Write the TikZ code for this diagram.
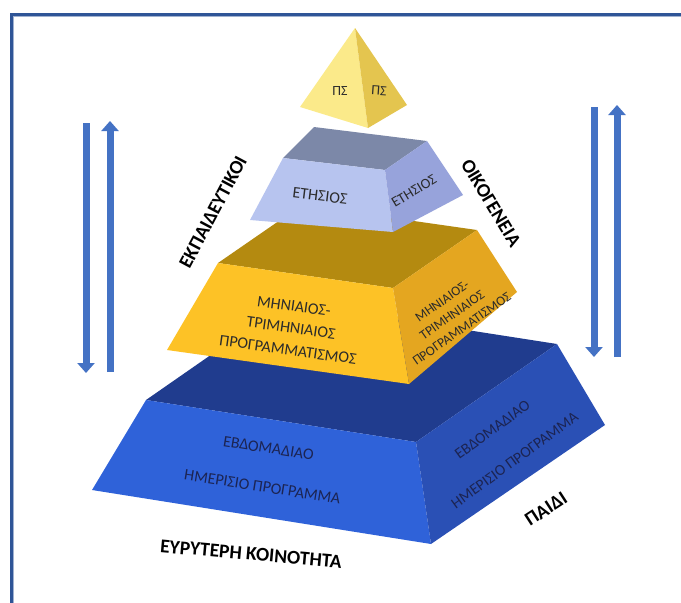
\documentclass[tikz,border=0pt]{standalone}
\usepackage{fontspec}
\setmainfont{Carlito}
\usetikzlibrary{arrows.meta}
\definecolor{framebl}{HTML}{2F5597}
\definecolor{arrowbl}{HTML}{4472C4}
\definecolor{pyrfront}{HTML}{FBEA8A}
\definecolor{pyrside}{HTML}{E4C54F}
\definecolor{yeartop}{HTML}{7C88A8}
\definecolor{yearfront}{HTML}{B7C4EF}
\definecolor{yearside}{HTML}{97A3DB}
\definecolor{monthtop}{HTML}{B48A10}
\definecolor{monthfront}{HTML}{FDC226}
\definecolor{monthside}{HTML}{E4A620}
\definecolor{weektop}{HTML}{203C8E}
\definecolor{weekfront}{HTML}{2F62D9}
\definecolor{weekside}{HTML}{2A50B5}
\definecolor{txtgray}{HTML}{2B2B2B}
\definecolor{txtnavy}{HTML}{1C2452}

\begin{document}
\begin{tikzpicture}[x=1pt, y=-1pt,
  lbl/.style={font=\fontsize{19.5}{19.5}\selectfont\bfseries, inner sep=0pt},
  facetxt/.style={text=txtgray, align=center, inner sep=0pt},
  flow/.style={line width=7pt, draw=arrowbl, -{Triangle[width=17pt,length=10pt]}}]
  \useasboundingbox (0,0) rectangle (681,603);
  % frame, top and left only
  \draw[framebl, line width=3pt] (11,603) -- (11,14) -- (681,14);
  \draw[framebl!45, line width=0.8pt] (13.5,603) -- (13.5,16.5) -- (681,16.5);

  % weekly tier (bottom)
  \fill[weektop]   (146,400) -- (416,442) -- (557,344) -- (287,302) -- cycle;
  \fill[weekfront] (146,400) -- (416,442) -- (431,544) -- (92,490) -- cycle;
  \fill[weekside]  (416,442) -- (557,344) -- (605,425) -- (431,544) -- cycle;
  \node[facetxt, text=txtnavy, rotate=-9, font=\fontsize{16}{39}\selectfont] (weekA) at (265.5,467.5)
    {ΕΒΔΟΜΑΔΙΑΟ\\ΗΜΕΡΙΣΙΟ ΠΡΟΓΡΑΜΜΑ};
  \node[facetxt, text=txtnavy, rotate=36, font=\fontsize{15.5}{38}\selectfont] (weekB) at (503.5,445)
    {ΕΒΔΟΜΑΔΙΑΟ\\ΗΜΕΡΙΣΙΟ ΠΡΟΓΡΑΜΜΑ};

  % monthly tier
  \fill[monthtop]   (218,263) -- (393,288) -- (477,230) -- (302,205) -- cycle;
  \fill[monthfront] (218,263) -- (393,288) -- (409,384) -- (167,350) -- cycle;
  \fill[monthside]  (393,288) -- (477,230) -- (517,292) -- (409,384) -- cycle;
  \node[facetxt, rotate=-8, font=\fontsize{16}{22}\selectfont] (monthA) at (291,328)
    {ΜΗΝΙΑΙΟΣ-\\ΤΡΙΜΗΝΙΑΙΟΣ\\ΠΡΟΓΡΑΜΜΑΤΙΣΜΟΣ};
  \node[facetxt, rotate=35, font=\fontsize{13.5}{17}\selectfont] (monthB) at (452,315)
    {ΜΗΝΙΑΙΟΣ-\\ΤΡΙΜΗΝΙΑΙΟΣ\\ΠΡΟΓΡΑΜΜΑΤΙΣΜΟΣ};

  % yearly tier
  \fill[yeartop]   (283,158) -- (385,170) -- (427,141) -- (314,127) -- cycle;
  \fill[yearfront] (283,158) -- (385,170) -- (393,232) -- (250,220) -- cycle;
  \fill[yearside]  (385,170) -- (427,141) -- (463,195) -- (393,232) -- cycle;
  \node[facetxt, rotate=-7, font=\fontsize{16}{16}\selectfont] (yearA) at (320,196) {ΕΤΗΣΙΟΣ};
  \node[facetxt, rotate=31, font=\fontsize{14.5}{14.5}\selectfont] (yearB) at (414,191) {ΕΤΗΣΙΟΣ};

  % top pyramid
  \fill[pyrfront] (355,28) -- (300,107) -- (368,128) -- cycle;
  \fill[pyrside]  (355,28) -- (368,128) -- (407,105) -- cycle;
  \node[facetxt, font=\fontsize{14}{14}\selectfont] (topA) at (340,91) {ΠΣ};
  \node[facetxt, rotate=-4, font=\fontsize{14}{14}\selectfont] (topB) at (379,91) {ΠΣ};

  % side labels
  \node[lbl, rotate=62] (teach) at (213,212) {ΕΚΠΑΙΔΕΥΤΙΚΟΙ};
  \node[lbl, rotate=-59] (family) at (491,203) {ΟΙΚΟΓΕΝΕΙΑ};
  \node[lbl, rotate=33] (child) at (546,509) {ΠΑΙΔΙ};
  \node[lbl, rotate=-5] (commun) at (251,554) {ΕΥΡΥΤΕΡΗ ΚΟΙΝΟΤΗΤΑ};

  % two-way arrows on both sides
  \coordinate (lt1) at (86,123);  \coordinate (lb1) at (86,373);
  \coordinate (lt2) at (110,121); \coordinate (lb2) at (110,372);
  \coordinate (rt1) at (594,107); \coordinate (rb1) at (594,357);
  \coordinate (rt2) at (617,105); \coordinate (rb2) at (617,357);
  \draw[flow] (lt1) -- (lb1);
  \draw[flow] (lb2) -- (lt2);
  \draw[flow] (rt1) -- (rb1);
  \draw[flow] (rb2) -- (rt2);
\end{tikzpicture}
\end{document}
